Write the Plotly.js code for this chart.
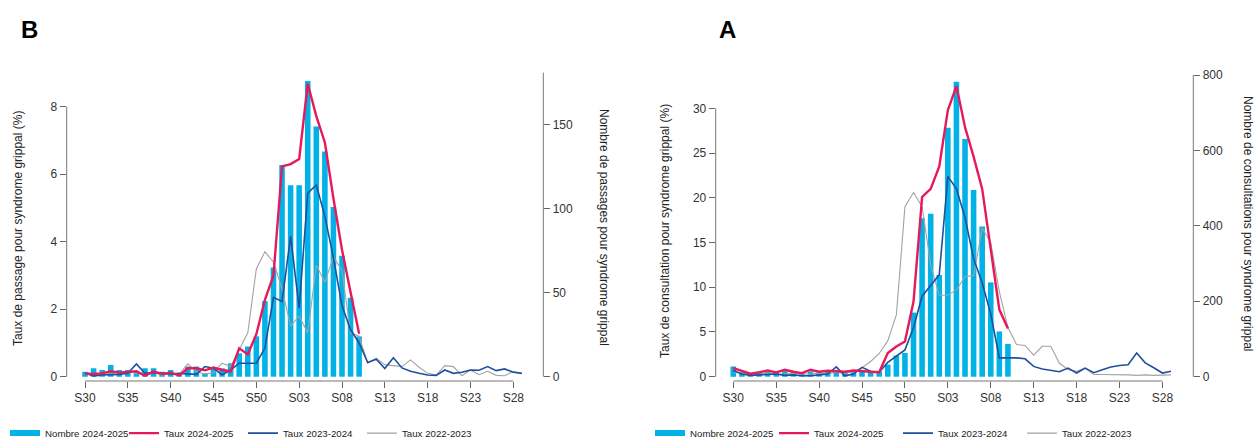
<!DOCTYPE html>
<html><head><meta charset="utf-8">
<script src="https://cdn.plot.ly/plotly-3.0.1.min.js"></script>
<style>html,body{margin:0;padding:0;background:#fff}#chart{width:1257px;height:441px}</style>
</head><body><div id="chart"></div>
<script>
// Week labels (season S30 -> S29)
const weeks = ['S30','S31','S32','S33','S34','S35','S36','S37','S38','S39','S40','S41','S42','S43','S44','S45','S46','S47','S48','S49','S50','S51','S52',
  'S01','S02','S03','S04','S05','S06','S07','S08','S09','S10','S11','S12','S13','S14','S15','S16','S17','S18','S19','S20','S21','S22','S23','S24','S25','S26','S27','S28','S29'];
const tickLabels = ['S30','S35','S40','S45','S50','S03','S08','S13','S18','S23','S28'];

// Panel B : passages aux urgences
const bNombre2425 = [3,5,4,7,4,4,2,5,5,3,4,1,6,6,2,5,5,8,14,18,24,45,65,126,114,114,176,149,134,101,72,47,24];
const bTaux2425 = [0.1,0.08,0.1,0.16,0.12,0.13,0.16,0.03,0.15,0.08,0.12,0.04,0.25,0.25,0.19,0.27,0.2,0.16,0.84,0.66,1.26,2.28,3.0,6.23,6.3,6.45,8.68,7.72,6.94,5.28,3.76,2.5,1.27];
const bTaux2324 = [0.1,0.02,0.05,0.05,0.07,0.1,0.38,0.1,0.12,0.1,0.08,0.1,0.08,0.07,0.3,0.25,0.06,0.2,0.4,0.4,0.4,0.85,2.35,2.23,4.16,2.03,5.44,5.68,4.75,3.52,2.1,1.39,1.0,0.42,0.52,0.24,0.56,0.26,0.16,0.1,0.05,0.04,0.2,0.1,0.13,0.2,0.19,0.3,0.18,0.23,0.13,0.1];
const bTaux2223 = [0.1,0.08,0.05,0.1,0.12,0.15,0.12,0.1,0.12,0.05,0.1,0.08,0.38,0.15,0.08,0.12,0.4,0.3,0.8,1.3,3.2,3.7,3.4,2.6,1.5,1.8,1.3,3.3,2.8,3.55,3.15,1.3,1.2,0.4,0.55,0.35,0.33,0.3,0.5,0.28,0.1,0.05,0.33,0.3,0.03,0.2,0.06,0.16,0.04,0.03,0.16,0.1];

// Panel A : consultations SOS Médecins
const aNombre2425 = [27,12,10,14,16,12,15,12,10,14,12,16,12,14,12,14,12,14,32,56,63,170,420,432,270,660,782,630,495,398,250,120,87];
const aTaux2425 = [0.96,0.6,0.33,0.48,0.7,0.48,0.78,0.55,0.4,0.78,0.55,0.66,0.6,0.55,0.7,0.6,0.55,0.5,2.64,3.38,3.94,8.4,20.1,21.0,23.5,29.8,32.5,27.9,24.6,21.0,14.5,7.5,5.4];
const aTaux2324 = [0.7,0.3,0.15,0.2,0.2,0.3,0.15,0.2,0.1,0.1,0.2,0.3,1.1,0.1,0.3,1.05,0.6,0.5,1.6,2.3,3.0,5.5,9.0,10.2,11.4,22.4,21.0,17.8,13.2,10.5,7.0,2.1,2.1,2.1,2.0,1.15,0.86,0.7,0.55,0.96,0.41,0.96,0.45,0.78,1.08,1.25,1.34,2.64,1.55,1.0,0.41,0.6];
const aTaux2223 = [0.5,0.4,0.3,0.3,0.4,0.3,0.3,0.4,0.3,0.3,0.4,0.3,0.5,0.4,0.6,1.0,1.7,2.6,4.0,6.9,19.0,20.6,19.0,12.5,9.1,9.1,9.7,11.2,11.3,16.6,15.0,9.5,5.5,3.6,3.5,2.4,3.4,3.4,1.5,0.8,0.6,0.95,0.25,0.25,0.25,0.25,0.2,0.15,0.2,0.15,0.15,0.2];

const COL_BAR = '#00b2e6', COL_RED = '#e6195a', COL_BLUE = '#1f4f9f', COL_GRAY = '#a3a3a3';
const FONT = 'Liberation Sans, Arial, sans-serif';
const W = 1257, H = 441;
const px = v => v / W, py = v => (H - v) / H;

function panelTraces(xa, yBars, yRates, nombre, t25, t24, t23, leg) {
  return [
    {type:'bar', x: weeks.slice(0, nombre.length), y: nombre, xaxis: xa, yaxis: yBars,
     marker:{color: COL_BAR}, showlegend:false, hoverinfo:'y'},
    {type:'scatter', mode:'lines', x:[null], y:[null], xaxis: xa, yaxis: yRates, name:'Nombre 2024-2025',
     line:{color: COL_BAR, width:6}, legend: leg, legendrank:1},
    {type:'scatter', mode:'lines', x: weeks.slice(0, t23.length), y: t23, xaxis: xa, yaxis: yRates, name:'Taux 2022-2023',
     line:{color: COL_GRAY, width:1.1}, legend: leg, legendrank:4},
    {type:'scatter', mode:'lines', x: weeks.slice(0, t24.length), y: t24, xaxis: xa, yaxis: yRates, name:'Taux 2023-2024',
     line:{color: COL_BLUE, width:1.6}, legend: leg, legendrank:3},
    {type:'scatter', mode:'lines', x: weeks.slice(0, t25.length), y: t25, xaxis: xa, yaxis: yRates, name:'Taux 2024-2025',
     line:{color: COL_RED, width:2.4}, legend: leg, legendrank:2}
  ];
}

const data = [].concat(
  panelTraces('x', 'y', 'y2', bNombre2425, bTaux2425, bTaux2324, bTaux2223, 'legend'),
  panelTraces('x2', 'y3', 'y4', aNombre2425, aTaux2425, aTaux2324, aTaux2223, 'legend2')
);

const yDom = [py(381), py(72)];
const tickFont = {family: FONT, size: 12, color: '#333'};
function xAxis(dom, rng, anchor) {
  return {domain: dom, anchor: anchor, type:'category', categoryarray: weeks, range: rng,
    tickmode:'array', tickvals: tickLabels, ticktext: tickLabels, ticks:'outside', ticklen:6,
    tickcolor:'#666', tickwidth:1, showline:false, showgrid:false, zeroline:false, tickfont: tickFont};
}
function yAxis(rng, dtick, side, extra) {
  return Object.assign({domain: yDom, range: rng, dtick: dtick, side: side, ticks:'outside', ticklen:6,
    tickcolor:'#666', tickwidth:1, showline:false, showgrid:false, zeroline:false, tickfont: tickFont}, extra);
}
const bDom = [px(66.7), px(543.3)], aDom = [px(715.7), px(1193.3)];

const lineStyle = {color:'#777', width:1};
const shapes = [
  {type:'line', xref:'x', yref:'paper', x0:'S30', x1:'S28', y0:yDom[0], y1:yDom[0], line:lineStyle},
  {type:'line', xref:'paper', yref:'y2', x0:bDom[0], x1:bDom[0], y0:0, y1:8, line:lineStyle},
  {type:'line', xref:'paper', yref:'y', x0:bDom[1], x1:bDom[1], y0:0, y1:181, line:lineStyle},
  {type:'line', xref:'x2', yref:'paper', x0:'S30', x1:'S28', y0:yDom[0], y1:yDom[0], line:lineStyle},
  {type:'line', xref:'paper', yref:'y4', x0:aDom[0], x1:aDom[0], y0:0, y1:30, line:lineStyle},
  {type:'line', xref:'paper', yref:'y3', x0:aDom[1], x1:aDom[1], y0:0, y1:800, line:lineStyle}
];

const titleFont = {family: FONT, size: 12, color:'#222'};
const ann = (text, x, y, angle, font) => ({text, xref:'paper', yref:'paper', x:px(x), y:py(y), xanchor:'center', yanchor:'middle',
  textangle:angle, showarrow:false, font});
const letterFont = {family:FONT, size:24, color:'#000'};
const annotations = [
  ann('<b>B</b>', 29, 29, 0, letterFont),
  ann('<b>A</b>', 727, 29, 0, letterFont),
  ann('Taux de passage pour syndrome grippal (%)', 18, 229, -90, titleFont),
  ann('Nombre de passages pour syndrome grippal', 604, 227, 90, titleFont),
  ann('Taux de consultation pour syndrome grippal (%)', 665, 231, -90, titleFont),
  ann('Nombre de consultations pour syndrome grippal', 1248, 223, 90, titleFont)
];

const legFont = {family: FONT, size: 9.7, color:'#222'};
const layout = {
  width: W, height: H, margin:{l:0, r:0, t:0, b:0, autoexpand:false},
  paper_bgcolor:'#fff', plot_bgcolor:'rgba(0,0,0,0)', bargap:0.35,
  font:{family: FONT},
  xaxis: xAxis(bDom, [-2.14, 53.5], 'y'),
  xaxis2: xAxis(aDom, [-2.05, 53.6], 'y3'),
  yaxis: yAxis([-2.56, 181.4], 50, 'right', {anchor:'x'}),
  yaxis2: yAxis([-0.127, 9.028], 2, 'left', {anchor:'x', overlaying:'y'}),
  yaxis3: yAxis([-11.4, 808], 200, 'right', {anchor:'x2'}),
  yaxis4: yAxis([-0.481, 34.07], 5, 'left', {anchor:'x2', overlaying:'y3'}),
  legend: {orientation:'h', x:px(5), y:-0.015, xanchor:'left', yanchor:'bottom', entrywidth:74, entrywidthmode:'pixels',
           font: legFont, bgcolor:'rgba(0,0,0,0)', traceorder:'normal'},
  legend2: {orientation:'h', x:px(650), y:-0.015, xanchor:'left', yanchor:'bottom', entrywidth:79, entrywidthmode:'pixels',
           font: legFont, bgcolor:'rgba(0,0,0,0)', traceorder:'normal'},
  shapes: shapes, annotations: annotations
};

Plotly.newPlot('chart', data, layout, {staticPlot:true});
</script></body></html>
